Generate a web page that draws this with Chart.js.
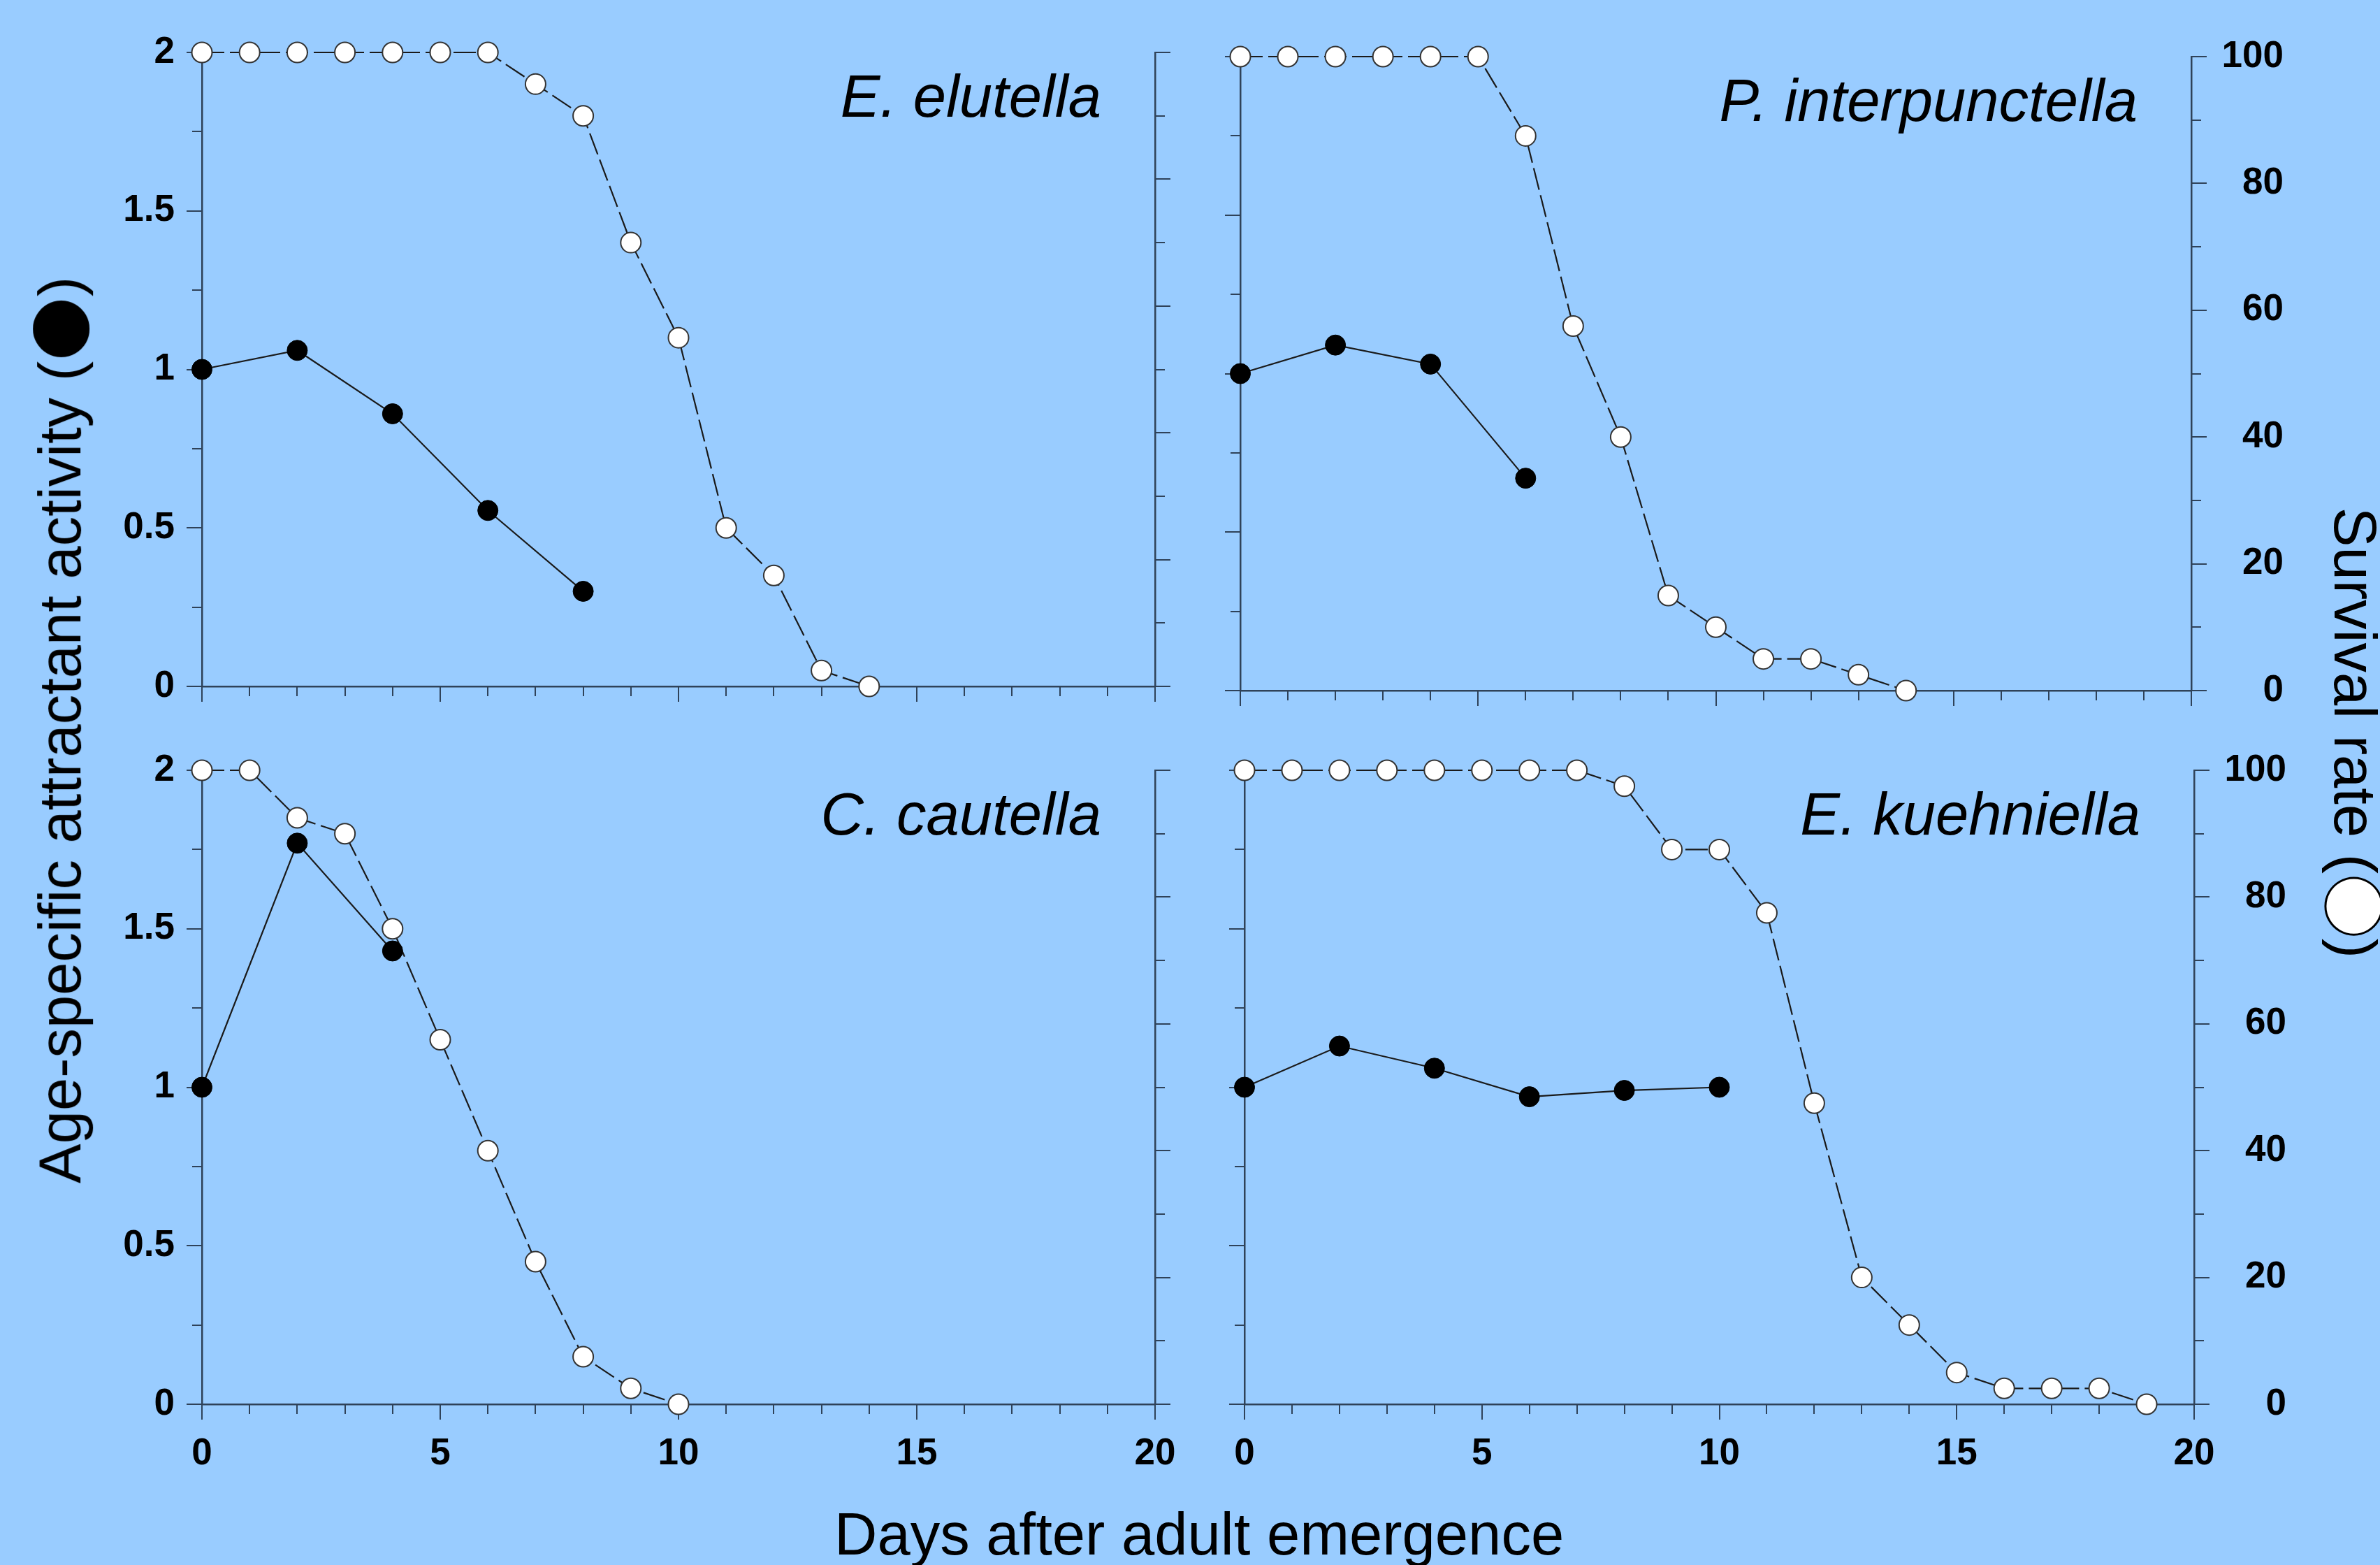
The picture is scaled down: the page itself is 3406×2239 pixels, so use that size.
<!DOCTYPE html>
<html>
<head>
<meta charset="utf-8">
<script src="https://cdn.jsdelivr.net/npm/chart.js@4"></script>
<style>
  html, body { margin: 0; padding: 0; background: #99CCFF; }
  #page { position: relative; width: 3406px; height: 2239px; overflow: hidden; background: #99CCFF; font-family: "Liberation Sans", Arial, sans-serif; }
  canvas { position: absolute; }
  .axtitle { position: absolute; font-size: 85px; line-height: 1; white-space: nowrap; color: #000; }
  .sym { font-family: "DejaVu Sans"; font-size: 1.25em; line-height: 0; }
  .open { color: #fff; -webkit-text-stroke: 3px #000; }
</style>
</head>
<body>
<div id="page">
  <canvas id="tl"></canvas>
  <canvas id="tr"></canvas>
  <canvas id="bl"></canvas>
  <canvas id="br"></canvas>
  <div class="axtitle" id="ytitle">Age-specific attractant activity (<span class="sym">●</span>)</div>
  <div class="axtitle" id="y2title">Survival rate (<span class="sym open">●</span>)</div>
  <div class="axtitle" id="xtitle">Days after adult emergence</div>
</div>
<script>
// E. elutella
const elutellaActDays = [0, 2, 4, 6, 8];
const elutellaAct = [1.0, 1.06, 0.86, 0.555, 0.30];
const elutellaSurvDays = [0, 1, 2, 3, 4, 5, 6, 7, 8, 9, 10, 11, 12, 13, 14];
const elutellaSurv = [100, 100, 100, 100, 100, 100, 100, 95, 90, 70, 55, 25, 17.5, 2.5, 0];

// P. interpunctella
const interpActDays = [0, 2, 4, 6];
const interpAct = [1.0, 1.09, 1.03, 0.67];
const interpSurvDays = [0, 1, 2, 3, 4, 5, 6, 7, 8, 9, 10, 11, 12, 13, 14];
const interpSurv = [100, 100, 100, 100, 100, 100, 87.5, 57.5, 40, 15, 10, 5, 5, 2.5, 0];

// C. cautella
const cautellaActDays = [0, 2, 4];
const cautellaAct = [1.0, 1.77, 1.43];
const cautellaSurvDays = [0, 1, 2, 3, 4, 5, 6, 7, 8, 9, 10];
const cautellaSurv = [100, 100, 92.5, 90, 75, 57.5, 40, 22.5, 7.5, 2.5, 0];

// E. kuehniella
const kuehnActDays = [0, 2, 4, 6, 8, 10];
const kuehnAct = [1.0, 1.13, 1.06, 0.97, 0.99, 1.0];
const kuehnSurvDays = [0, 1, 2, 3, 4, 5, 6, 7, 8, 9, 10, 11, 12, 13, 14, 15, 16, 17, 18, 19];
const kuehnSurv = [100, 100, 100, 100, 100, 100, 100, 100, 97.5, 87.5, 87.5, 77.5, 47.5, 20, 12.5, 5, 2.5, 2.5, 2.5, 0];

const activityTicks = [0, 0.5, 1, 1.5, 2];
const survivalTicks = [0, 20, 40, 60, 80, 100];
const dayTicks = [0, 5, 10, 15, 20];

const axisColor = '#2f4259';
const tickFont = { family: 'Liberation Sans', size: 53, weight: 'bold' };
const pad = { left: 30, right: 30, top: 60, bottom: 20 };

function toPoints(xs, ys) {
    return xs.map((x, i) => ({ x: x, y: ys[i] }));
}

// draws the species name in the top right corner of each panel
const panelTitle = {
    id: 'panelTitle',
    afterDatasetsDraw(chart, args, opts) {
        const ctx = chart.ctx;
        const area = chart.chartArea;
        ctx.save();
        ctx.font = 'italic 85px "Liberation Sans"';
        ctx.fillStyle = '#000';
        ctx.textAlign = 'right';
        ctx.textBaseline = 'alphabetic';
        ctx.fillText(opts.text, area.right - 77, area.top + 92);
        ctx.restore();
    }
};

function majorAxis(position, min, max, step, labels, size, list) {
    const horizontal = position === 'bottom';
    return {
        type: 'linear', position: position, min: min, max: max, weight: 1,
        ticks: {
            stepSize: step, display: labels, font: tickFont, color: '#000',
            padding: horizontal ? 18 : 17,
            crossAlign: position === 'right' ? 'far' : 'near',
            callback: v => list.includes(v) ? String(v) : ''
        },
        grid: { drawOnChartArea: false, drawTicks: true, tickLength: 22, color: axisColor, lineWidth: 2 },
        border: { display: true, color: axisColor, width: 2.5 },
        afterFit: s => { if (horizontal) s.height = size; else s.width = size; }
    };
}

function minorAxis(position, min, max, step) {
    const horizontal = position === 'bottom';
    return {
        type: 'linear', position: position, min: min, max: max, weight: 0,
        ticks: { stepSize: step, display: false },
        grid: { drawOnChartArea: false, drawTicks: true, tickLength: 14, color: axisColor, lineWidth: 2 },
        border: { display: false },
        afterFit: s => { if (horizontal) s.height = 0; else s.width = 0; }
    };
}

function makePanel(id, area, name, actDays, act, survDays, surv, leftLabels, rightLabels, xLabels) {
    const leftW = leftLabels ? 140 : 30;
    const rightW = rightLabels ? 132 : 30;   // right labels are right-aligned to this edge
    const bottomH = xLabels ? 110 : 40;
    const canvas = document.getElementById(id);
    const left = area.L - pad.left - leftW;
    const top = area.T - pad.top;
    const width = area.R + rightW + pad.right - left;
    const height = area.B + bottomH + pad.bottom - top;
    canvas.width = width;
    canvas.height = height;
    canvas.style.left = left + 'px';
    canvas.style.top = top + 'px';
    canvas.style.width = width + 'px';
    canvas.style.height = height + 'px';

    new Chart(canvas.getContext('2d'), {
        type: 'line',
        data: {
            datasets: [{
                label: 'Age-specific attractant activity',
                data: toPoints(actDays, act),
                yAxisID: 'y',
                xAxisID: 'x',
                borderColor: '#1a1a1a',
                borderWidth: 2.2,
                pointRadius: 14.5,
                pointBackgroundColor: '#000',
                pointBorderColor: '#000',
                pointBorderWidth: 1,
                fill: false,
                tension: 0,
                clip: false
            }, {
                label: 'Survival rate',
                data: toPoints(survDays, surv),
                yAxisID: 'y2',
                xAxisID: 'x',
                borderColor: '#1a1a1a',
                borderWidth: 2.2,
                borderDash: [32, 8],
                pointRadius: 14.5,
                pointBackgroundColor: '#fff',
                pointBorderColor: '#333',
                pointBorderWidth: 2,
                fill: false,
                tension: 0,
                clip: false
            }]
        },
        options: {
            responsive: false,
            animation: false,
            devicePixelRatio: 1,
            events: [],
            layout: { padding: pad },
            plugins: {
                legend: { display: false },
                tooltip: { enabled: false },
                panelTitle: { text: name }
            },
            scales: {
                x: majorAxis('bottom', 0, 20, 5, xLabels, bottomH, dayTicks),
                xMinor: minorAxis('bottom', 0, 20, 1),
                y: majorAxis('left', 0, 2, 0.5, leftLabels, leftW, activityTicks),
                yMinor: minorAxis('left', 0, 2, 0.25),
                y2: majorAxis('right', 0, 100, 20, rightLabels, rightW, survivalTicks),
                y2Minor: minorAxis('right', 0, 100, 10)
            }
        },
        plugins: [panelTitle]
    });
}

Chart.defaults.font.family = 'Liberation Sans';

makePanel('tl', { L: 289, R: 1653, T: 75, B: 982 }, 'E. elutella',
    elutellaActDays, elutellaAct, elutellaSurvDays, elutellaSurv, true, false, false);
makePanel('tr', { L: 1775, R: 3136, T: 81, B: 988 }, 'P. interpunctella',
    interpActDays, interpAct, interpSurvDays, interpSurv, false, true, false);
makePanel('bl', { L: 289, R: 1653, T: 1102, B: 2009 }, 'C. cautella',
    cautellaActDays, cautellaAct, cautellaSurvDays, cautellaSurv, true, false, true);
makePanel('br', { L: 1781, R: 3140, T: 1102, B: 2009 }, 'E. kuehniella',
    kuehnActDays, kuehnAct, kuehnSurvDays, kuehnSurv, false, true, true);

// axis titles: place each by its centre, then rotate
function placeTitle(id, cx, cy, angle) {
    const el = document.getElementById(id);
    const w = el.offsetWidth, h = el.offsetHeight;
    el.style.left = (cx - w / 2) + 'px';
    el.style.top = (cy - h / 2) + 'px';
    el.style.transform = 'rotate(' + angle + 'deg)';
}
placeTitle('ytitle', 85, 1044, -90);
placeTitle('y2title', 3370, 1048, 90);
placeTitle('xtitle', 1716, 2194, 0);
</script>
</body>
</html>
